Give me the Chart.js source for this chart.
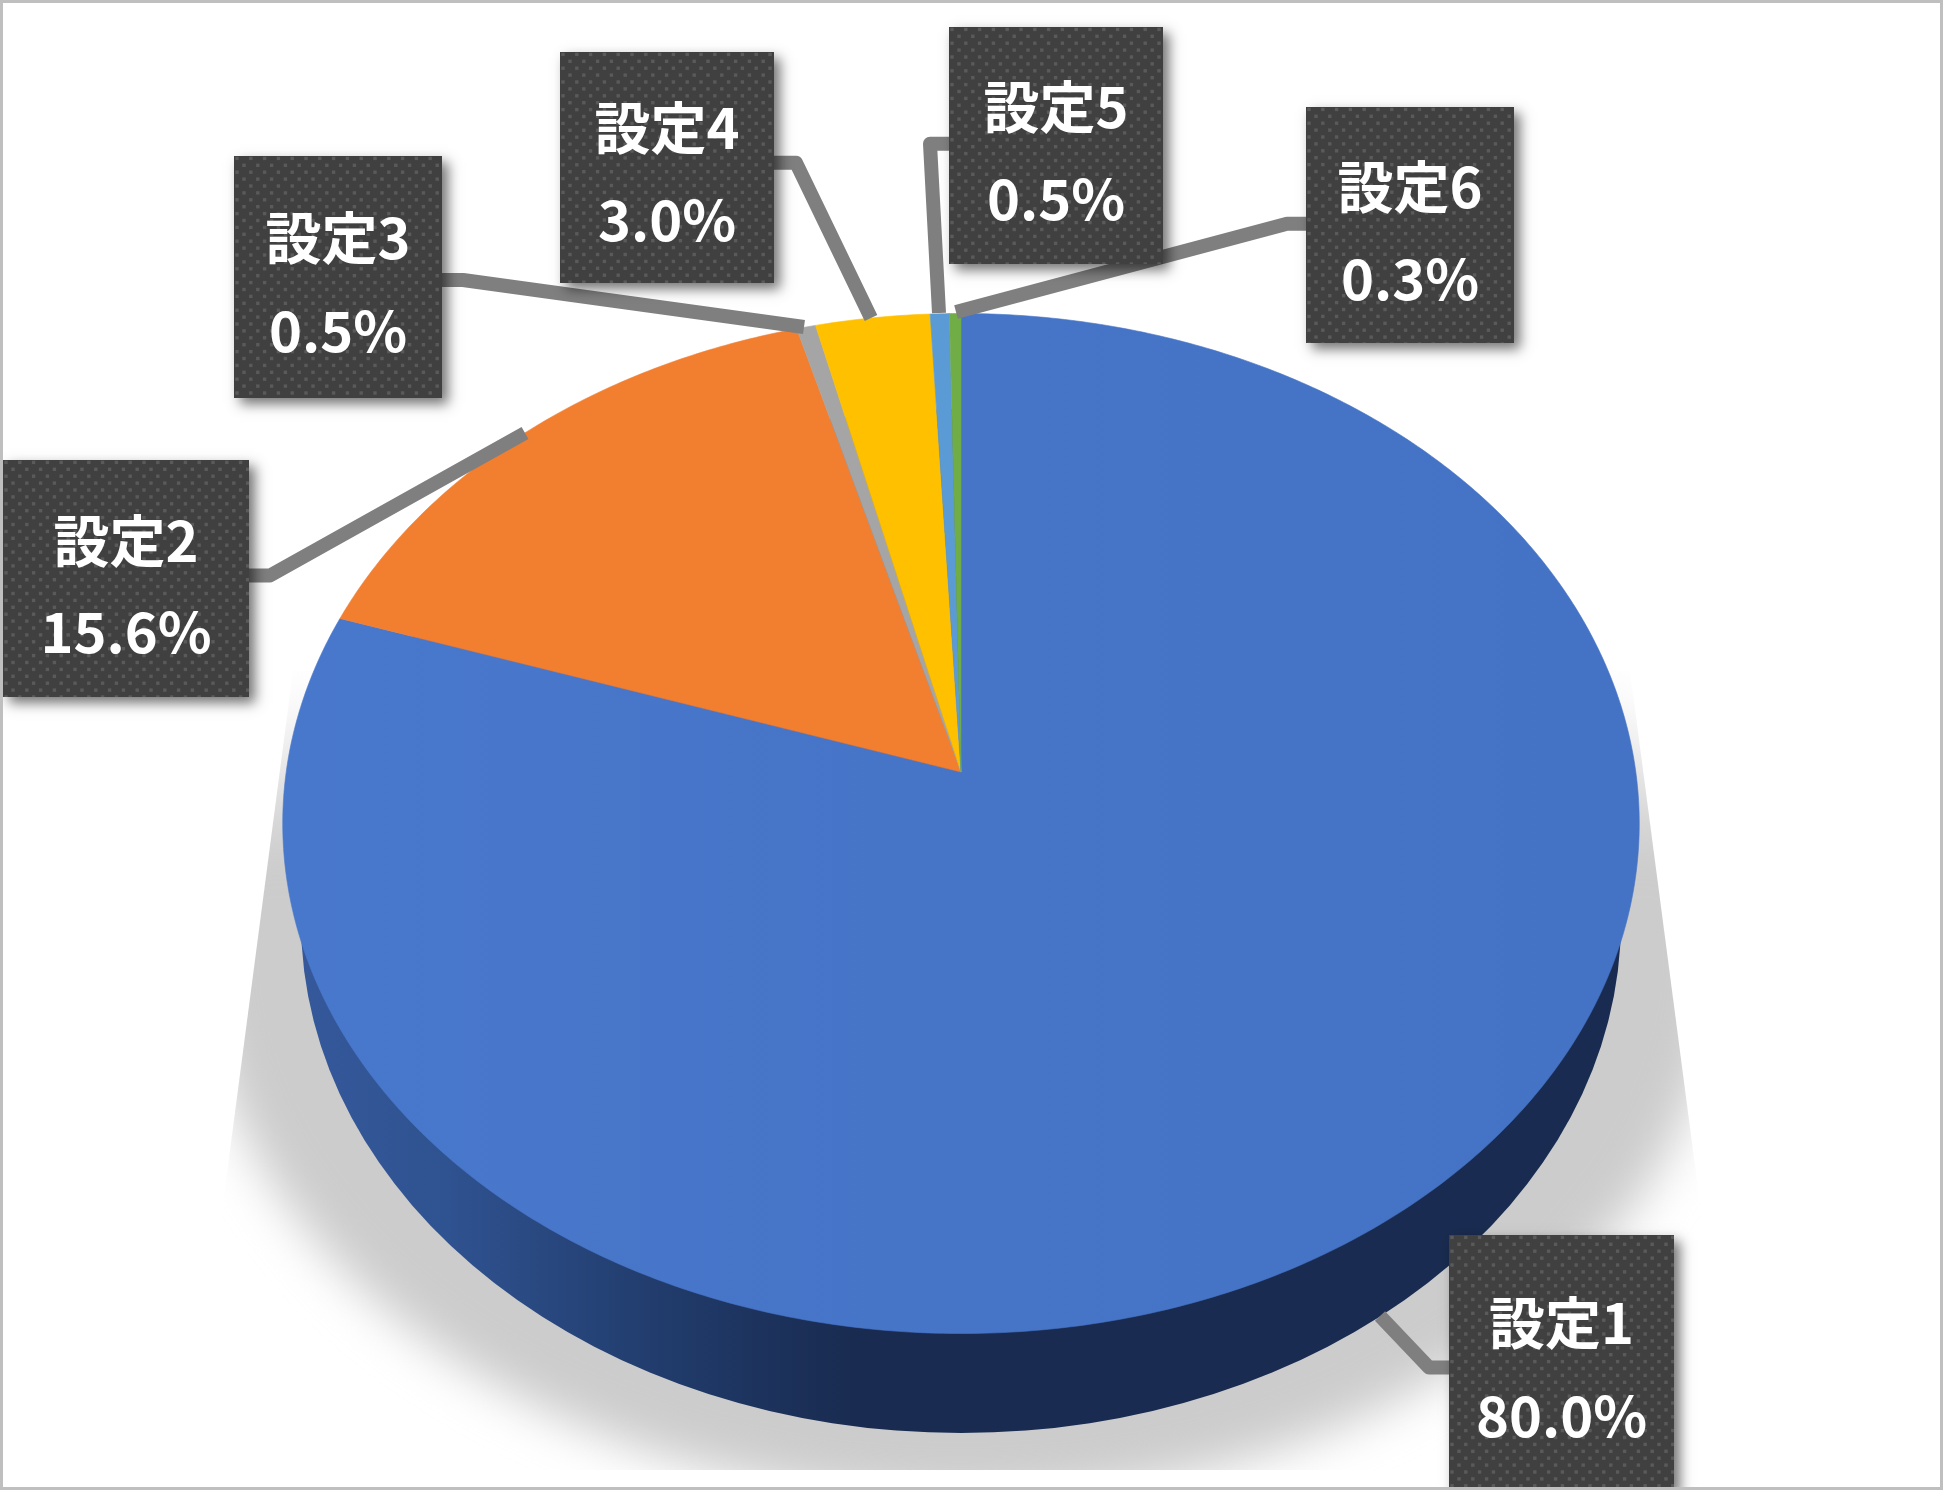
<!DOCTYPE html>
<html>
<head>
<meta charset="utf-8">
<style>html,body{margin:0;padding:0;background:#fff}canvas{display:block}</style>
<script src="https://cdn.jsdelivr.net/npm/chart.js@4"></script>
</head>
<body>
<canvas id="c" width="1943" height="1490" style="width:1943px;height:1490px"></canvas>
<script>
// --- data ---
const categories = ['設定1', '設定2', '設定3', '設定4', '設定5', '設定6'];
const shares = [80.0, 15.6, 0.5, 3.0, 0.5, 0.3];
const sliceColors = ['#4472C4', '#F27E30', '#A5A5A5', '#FFC000', '#5B9BD5', '#70AD47'];

// --- layout of the callouts (box x, y, w, h; baselines; leader path) ---
const boxes = [
  [1449, 1235, 225, 255, 109, 202],
  [3, 460, 246, 237, 102, 193],
  [234, 156, 208, 242, 103, 196],
  [560, 52, 214, 231, 97, 189],
  [949, 27, 214, 237, 101, 193],
  [1306, 107, 208, 236, 101, 193]
];
const leaders = [
  [[1455, 1367.5], [1429, 1367.5], [1380, 1316]],
  [[245, 575.5], [270, 575.5], [525, 433]],
  [[436, 280], [463, 280], [804, 327]],
  [[768, 162.7], [796, 162.7], [871, 318]],
  [[955, 143.7], [930, 143.7], [939, 313]],
  [[1312, 223.7], [1287, 223.7], [956, 312]]
];
// perspective of the pie's top face, and the ellipse of its base
const persp = {cx: 961, cy: 772, ax: 674.8, ay: 504.8, k: -0.101};
const base = {cx: 961, cy: 921, a: 660, b: 512};

function project(u, v) {
  const d = 1 + persp.k * v;
  return [persp.cx + persp.ax * u / d, persp.cy + persp.ay * v / d];
}

const pie3d = {
  id: 'pie3d',
  beforeDatasetsDraw(chart) {
    const ctx = chart.ctx;
    // ground shadow
    ctx.save();
    ctx.beginPath();
    ctx.moveTo(293, 671); ctx.lineTo(188, 1470); ctx.lineTo(1735, 1470); ctx.lineTo(1630, 671);
    ctx.closePath();
    ctx.clip();
    const sg = ctx.createLinearGradient(0, 680, 0, 860);
    sg.addColorStop(0, 'rgba(204,204,204,0)');
    sg.addColorStop(1, 'rgba(204,204,204,1)');
    ctx.filter = 'blur(24px)';
    ctx.fillStyle = sg;
    ctx.beginPath();
    ctx.ellipse(961, 950, 760, 550, 0, 0, Math.PI * 2);
    ctx.fill();
    ctx.restore();

    // side wall
    const wg = ctx.createLinearGradient(285, 0, 1640, 0);
    wg.addColorStop(0, '#35599C');
    wg.addColorStop(0.12, '#2F5290');
    wg.addColorStop(0.29, '#203A69');
    wg.addColorStop(0.42, '#192B50');
    wg.addColorStop(1, '#192B50');
    ctx.fillStyle = wg;
    ctx.beginPath();
    ctx.ellipse(base.cx, base.cy, base.a, base.b, 0, 0, Math.PI * 2);
    ctx.fill();

    // top face: slices from Chart.js' own arc elements, seen in perspective
    const meta = chart.getDatasetMeta(0);
    meta.data.forEach((arc, i) => {
      const p = arc.getProps(['startAngle', 'endAngle'], true);
      const steps = Math.max(4, Math.ceil((p.endAngle - p.startAngle) / 0.01));
      ctx.beginPath();
      ctx.moveTo(...project(0, 0));
      for (let s = 0; s <= steps; s++) {
        const t = p.startAngle + (p.endAngle - p.startAngle) * s / steps;
        ctx.lineTo(...project(Math.cos(t), Math.sin(t)));
      }
      ctx.closePath();
      let fill = arc.options.backgroundColor;
      if (i === 0) {
        const g = ctx.createLinearGradient(283, 0, 1640, 0);
        g.addColorStop(0, '#4878CC');
        g.addColorStop(0.5, '#4674C7');
        g.addColorStop(1, '#4472C4');
        fill = g;
      }
      ctx.fillStyle = fill;
      ctx.strokeStyle = fill;
      ctx.lineWidth = 0.6;
      ctx.fill();
      ctx.stroke();
    });
    return false;
  },
  afterDraw(chart) {
    const ctx = chart.ctx;
    // leader lines
    ctx.save();
    ctx.strokeStyle = '#7F7F7F';
    ctx.lineWidth = 14;
    ctx.lineJoin = 'round';
    ctx.lineCap = 'butt';
    leaders.forEach(path => {
      ctx.beginPath();
      path.forEach((pt, j) => j ? ctx.lineTo(pt[0], pt[1]) : ctx.moveTo(pt[0], pt[1]));
      ctx.stroke();
    });
    ctx.restore();

    // callout boxes
    boxes.forEach((b, i) => {
      const [x, y, w, h, l1, l2] = b;
      ctx.save();
      ctx.shadowColor = 'rgba(0,0,0,0.55)';
      ctx.shadowBlur = 12;
      ctx.shadowOffsetX = 6;
      ctx.shadowOffsetY = 6;
      ctx.fillStyle = '#404040';
      ctx.fillRect(x, y, w, h);
      ctx.restore();

      ctx.save();
      ctx.beginPath();
      ctx.rect(x, y, w, h);
      ctx.clip();
      ctx.fillStyle = '#5A5A5A';
      for (let r = 0; r * 6.9 < h; r++) {
        const off = r % 2 ? 10 : 3;
        for (let q = 0; q * 13.8 + off < w; q++) {
          ctx.fillRect(x + off + q * 13.8 - 1.7, y + 2.4 + r * 6.9 - 1.7, 3.4, 3.4);
        }
      }
      ctx.restore();

      ctx.save();
      ctx.fillStyle = '#FFFFFF';
      ctx.textAlign = 'center';
      ctx.textBaseline = 'alphabetic';
      ctx.font = "700 56px 'Noto Sans CJK JP'";
      ctx.fillText(categories[i], x + w / 2, y + l1);
      ctx.fillText(shares[i].toFixed(1) + '%', x + w / 2, y + l2);
      ctx.restore();
    });

    // chart-area frame
    ctx.save();
    ctx.strokeStyle = '#BFBFBF';
    ctx.lineWidth = 3;
    ctx.strokeRect(1.5, 1.5, 1940, 1487);
    ctx.restore();
  }
};

new Chart(document.getElementById('c'), {
  type: 'pie',
  data: {
    labels: categories,
    datasets: [{data: shares, backgroundColor: sliceColors, borderWidth: 0}]
  },
  options: {
    responsive: false,
    devicePixelRatio: 1,
    animation: false,
    rotation: 0,
    plugins: {legend: {display: false}, tooltip: {enabled: false}, title: {display: false}}
  },
  plugins: [pie3d]
});
</script>
</body>
</html>
